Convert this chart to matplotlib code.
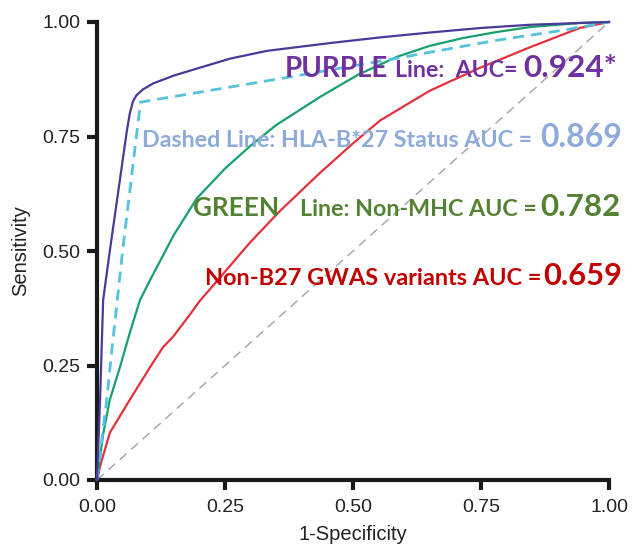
import matplotlib
matplotlib.use('Agg')
import matplotlib.pyplot as plt

# ---------------- data ----------------
purple_fpr = [0, 0.006, 0.012, 0.025, 0.039, 0.058, 0.064, 0.07, 0.077, 0.09, 0.11, 0.15, 0.2, 0.26, 0.332, 0.455, 0.55, 0.65, 0.75, 0.846, 1.0]
purple_tpr = [0, 0.175, 0.393, 0.50, 0.61, 0.76, 0.80, 0.826, 0.84, 0.853, 0.866, 0.883, 0.90, 0.92, 0.937, 0.954, 0.966, 0.977, 0.987, 0.994, 1.0]

dashed_fpr = [0, 0.019, 0.029, 0.039, 0.05, 0.085, 0.377, 0.586, 0.78, 0.91, 1.0]
dashed_tpr = [0, 0.175, 0.284, 0.386, 0.50, 0.825, 0.88, 0.921, 0.96, 0.982, 1.0]

green_fpr = [0, 0.012, 0.025, 0.045, 0.064, 0.084, 0.104, 0.15, 0.195, 0.25, 0.3, 0.35, 0.435, 0.51, 0.586, 0.65, 0.715, 0.78, 0.846, 0.943, 1.0]
green_tpr = [0, 0.10, 0.175, 0.247, 0.321, 0.393, 0.437, 0.535, 0.615, 0.68, 0.73, 0.775, 0.836, 0.885, 0.924, 0.948, 0.965, 0.978, 0.989, 0.998, 1.0]

red_fpr = [0, 0.006, 0.025, 0.064, 0.104, 0.129, 0.148, 0.182, 0.2, 0.254, 0.3, 0.357, 0.435, 0.5, 0.553, 0.65, 0.748, 0.846, 0.943, 1.0]
red_tpr = [0, 0.03, 0.103, 0.175, 0.247, 0.29, 0.312, 0.362, 0.39, 0.46, 0.52, 0.587, 0.67, 0.735, 0.785, 0.85, 0.90, 0.945, 0.987, 1.0]

ref_fpr = [0, 1]
ref_tpr = [0, 1]

ticks = [0.00, 0.25, 0.50, 0.75, 1.00]
tick_labels = ["0.00", "0.25", "0.50", "0.75", "1.00"]
xlabel = "1-Specificity"
ylabel = "Sensitivity"

# annotation texts (line -> segments)
ann_purple = ["PURPLE", "Line:  AUC=", "0.924*"]
ann_dashed = ["Dashed Line: HLA-B*27 Status AUC =", "0.869"]
ann_green = ["GREEN", "Line: Non-MHC AUC =", "0.782"]
ann_red = ["Non-B27 GWAS variants AUC =", "0.659"]

# ---------------- figure ----------------
W, H = 632, 547
fig = plt.figure(figsize=(W / 100, H / 100), dpi=100)
ax = fig.add_axes([97 / W, 1 - 480 / H, 512 / W, 458 / H])
ax.set_xlim(0, 1)
ax.set_ylim(0, 1)

ax.plot(ref_fpr, ref_tpr, color='#aaaaaa', lw=1.1, ls=(0, (6, 4)), clip_on=False, zorder=1)
ax.plot(red_fpr, red_tpr, color='#e3323c', lw=1.6, clip_on=False, zorder=2)
ax.plot(green_fpr, green_tpr, color='#18a06c', lw=1.6, clip_on=False, zorder=3)
ax.plot(dashed_fpr, dashed_tpr, color='#56c2de', lw=2.0, ls=(0, (4, 2.5)), clip_on=False, zorder=4)
ax.plot(purple_fpr, purple_tpr, color='#4a3a98', lw=1.6, clip_on=False, zorder=5)

for s in ['top', 'right']:
    ax.spines[s].set_visible(False)
for s in ['left', 'bottom']:
    ax.spines[s].set_linewidth(3)
    ax.spines[s].set_color('#1a1a1a')
    ax.spines[s].set_capstyle('projecting')

ax.set_xticks(ticks)
ax.set_yticks(ticks)
ax.set_xticklabels(tick_labels)
ax.set_yticklabels(tick_labels)
ax.tick_params(direction='out', length=7, width=3, color='#1a1a1a', labelsize=14,
               labelcolor='#222222')
ax.tick_params(axis='x', pad=7)
ax.tick_params(axis='y', pad=5)
for lab in ax.get_xticklabels() + ax.get_yticklabels():
    lab.set_family(['Liberation Sans', 'DejaVu Sans'])

ax.set_xlabel(xlabel, fontsize=14.5, family=['Liberation Sans', 'DejaVu Sans'], color='#222222', labelpad=6)
ax.set_ylabel(ylabel, fontsize=14.5, family=['Liberation Sans', 'DejaVu Sans'], color='#222222', labelpad=9)

# ---------------- annotations ----------------
c_purple = '#7030a0'
c_blue = '#8eaadb'
c_green = '#548235'
c_red = '#c00000'

segments = [
    (ann_purple[0], 285, 388, 77, c_purple),
    (ann_purple[1], 395, 518, 77, c_purple),
    (ann_purple[2], 523, 617, 77, c_purple),
    (ann_dashed[0], 142, 533, 147, c_blue),
    (ann_dashed[1], 540, 622, 147, c_blue),
    (ann_green[0], 193, 279, 216, c_green),
    (ann_green[1], 300, 537, 216, c_green),
    (ann_green[2], 540, 620, 216, c_green),
    (ann_red[0], 205, 542, 285, c_red),
    (ann_red[1], 543, 622, 285, c_red),
]

fig.canvas.draw()
r = fig.canvas.get_renderer()
for txt, x0, x1, yb, col in segments:
    t = fig.text(x0 / W, 1 - yb / H, txt, fontsize=16, color=col, fontweight='bold',
                 family=['Lato', 'DejaVu Sans'], ha='left', va='baseline')
    w = t.get_window_extent(r).width
    t.set_fontsize(16 * (x1 - x0) / w)

fig.savefig('out.png', dpi=100)
